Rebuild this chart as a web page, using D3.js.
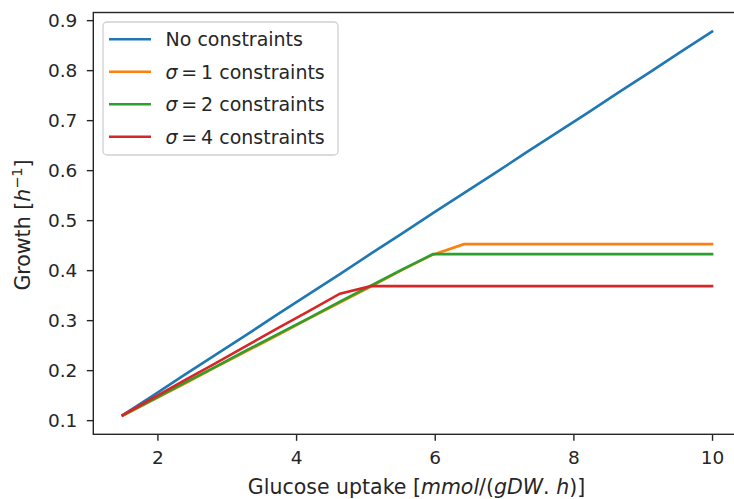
<!DOCTYPE html>
<html>
<head>
<meta charset="utf-8">
<script src="https://cdn.jsdelivr.net/npm/d3@7"></script>
<style>
  body { margin: 0; background: #fff; }
  svg { display: block; font-family: "DejaVu Sans", sans-serif; }
  .axis text { font-size: 18.5px; fill: #262626; font-family: "DejaVu Sans", sans-serif; }
  .axis line { stroke: #262626; stroke-width: 1.4; }
  .axis path { display: none; }
</style>
</head>
<body>
<svg id="chart"></svg>
<script>
// glucose uptake values (x)
const uptake = [1.5, 1.947, 2.395, 2.842, 3.289, 3.737, 4.184, 4.632, 5.079, 5.526,
                5.974, 6.421, 6.868, 7.316, 7.763, 8.211, 8.658, 9.105, 9.553, 10];

// growth for each run
const noConstraints = [0.110, 0.150, 0.191, 0.231, 0.271, 0.312, 0.352, 0.392, 0.433, 0.473,
                       0.514, 0.554, 0.594, 0.635, 0.675, 0.715, 0.756, 0.796, 0.837, 0.877];
const sigma1 = [0.109, 0.141, 0.173, 0.206, 0.238, 0.270, 0.303, 0.335, 0.367, 0.400,
                0.431, 0.452, 0.452, 0.452, 0.452, 0.452, 0.452, 0.452, 0.452, 0.452];
const sigma2 = [0.110, 0.142, 0.175, 0.207, 0.240, 0.272, 0.304, 0.337, 0.369, 0.401,
                0.432, 0.432, 0.432, 0.432, 0.432, 0.432, 0.432, 0.432, 0.432, 0.432];
const sigma4 = [0.110, 0.145, 0.180, 0.214, 0.249, 0.284, 0.318, 0.353, 0.368, 0.368,
                0.368, 0.368, 0.368, 0.368, 0.368, 0.368, 0.368, 0.368, 0.368, 0.368];

const xTicks = [2, 4, 6, 8, 10];
const yTicks = [0.1, 0.2, 0.3, 0.4, 0.5, 0.6, 0.7, 0.8, 0.9];

const series = [
  { sigma: null, values: noConstraints, color: "#1f77b4" },
  { sigma: "1", values: sigma1, color: "#ff7f0e" },
  { sigma: "2", values: sigma2, color: "#2ca02c" },
  { sigma: "4", values: sigma4, color: "#d62728" }
];

const width = 734, height = 499;
const margin = { top: 12.5, right: -7.5, bottom: 64.7, left: 93.3 };
const plotWidth = width - margin.left - margin.right;
const plotHeight = height - margin.top - margin.bottom;

const svg = d3.select("#chart").attr("width", width).attr("height", height);
const g = svg.append("g").attr("transform", `translate(${margin.left},${margin.top})`);

const x = d3.scaleLinear().domain([1.075, 10.425]).range([0, plotWidth]);
const y = d3.scaleLinear().domain([0.0717, 0.9153]).range([plotHeight, 0]);

// axes
g.append("g").attr("class", "axis")
  .attr("transform", `translate(0,${plotHeight})`)
  .call(d3.axisBottom(x).tickValues(xTicks).tickFormat(d3.format("d")).tickSize(6.5).tickSizeOuter(0).tickPadding(10.4));

g.append("g").attr("class", "axis")
  .call(d3.axisLeft(y).tickValues(yTicks).tickFormat(d3.format(".1f")).tickSize(6.5).tickSizeOuter(0).tickPadding(9.5))
  .selectAll("text").attr("dy", "0.36em");

// lines
const line = d3.line().x((d, i) => x(uptake[i])).y(d => y(d));
series.forEach(s => {
  g.append("path")
    .datum(s.values)
    .attr("fill", "none")
    .attr("stroke", s.color)
    .attr("stroke-width", 2.6)
    .attr("stroke-linecap", "square")
    .attr("d", line);
});

// frame
g.append("rect")
  .attr("x", 0).attr("y", 0)
  .attr("width", plotWidth).attr("height", plotHeight)
  .attr("fill", "none").attr("stroke", "#262626").attr("stroke-width", 1.4);

// legend
const legend = g.append("g").attr("transform", "translate(9.7,9.5)");
legend.append("rect")
  .attr("width", 235).attr("height", 133).attr("rx", 4)
  .attr("fill", "#fff").attr("fill-opacity", 0.8)
  .attr("stroke", "#d0d0d0").attr("stroke-width", 1.3);

series.forEach((s, i) => {
  const yy = 17.3 + i * 32.5;
  legend.append("line")
    .attr("x1", 6).attr("x2", 48).attr("y1", yy).attr("y2", yy)
    .attr("stroke", s.color).attr("stroke-width", 2.6);
  const t = legend.append("text")
    .attr("x", 62.5).attr("y", yy).attr("dy", "0.36em")
    .attr("font-size", 19).attr("fill", "#262626");
  if (s.sigma === null) {
    t.text("No constraints");
  } else {
    t.append("tspan").attr("font-style", "italic").text("σ");
    t.append("tspan").text("\u2009=\u2009" + s.sigma + " constraints");
  }
});

// x label
const xl = svg.append("text")
  .attr("x", 416.5).attr("y", 494)
  .attr("text-anchor", "middle").attr("font-size", 20.5).attr("fill", "#262626");
xl.append("tspan").text("Glucose uptake [");
xl.append("tspan").attr("font-style", "italic").text("mmol");
xl.append("tspan").text("/(");
xl.append("tspan").attr("font-style", "italic").text("gDW");
xl.append("tspan").text(". ");
xl.append("tspan").attr("font-style", "italic").text("h");
xl.append("tspan").text(")]");

// y label
const yl = svg.append("text")
  .attr("transform", `translate(29.5,225) rotate(-90)`)
  .attr("text-anchor", "middle").attr("font-size", 20.5).attr("fill", "#262626");
yl.append("tspan").text("Growth [");
yl.append("tspan").attr("font-style", "italic").text("h");
yl.append("tspan").attr("font-size", 14.5).attr("dy", -8).text("\u22121");
yl.append("tspan").attr("dy", 8).text("]");
</script>
</body>
</html>
